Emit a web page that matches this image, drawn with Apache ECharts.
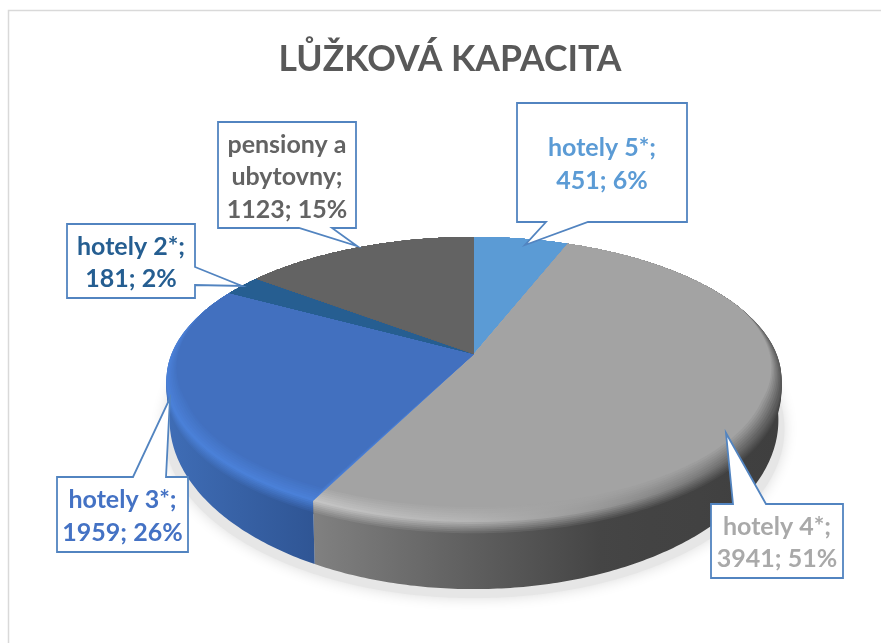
<!DOCTYPE html>
<html>
<head>
<meta charset="utf-8">
<style>html,body{margin:0;padding:0;background:#fff}#c{width:881px;height:643px}</style>
<script src="https://cdn.jsdelivr.net/npm/echarts@6/dist/echarts.min.js"></script>
</head>
<body>
<div id="c"></div>
<script>
// ---- data ----
const categories = ['hotely 5*', 'hotely 4*', 'hotely 3*', 'hotely 2*', 'pensiony a\nubytovny'];
const values = [451, 3941, 1959, 181, 1123];
const percents = [6, 51, 26, 2, 15];
const chartTitle = 'LŮŽKOVÁ KAPACITA';

// ---- styling ----
const topColors = ['#5B9BD5', '#A3A3A3', '#4270BF', '#265E91', '#636363'];
const textColors = ['#5B9BD5', '#A9A9A9', '#4472C4', '#255E91', '#636363'];
const sideStops = [
  [[166, '#3F6DB6'], [781, '#3F6DB6']],
  [[316, '#808080'], [470, '#5F5F5F'], [600, '#454545'], [781, '#3F3F3F']],
  [[166, '#3F6DB6'], [316, '#2F5594']],
  [[166, '#264F78'], [781, '#264F78']],
  [[166, '#444444'], [781, '#444444']]
];
const rimStops = [
  [[166, '#5B9BD5'], [781, '#5B9BD5']],
  [[316, '#C4C4C4'], [470, '#B4B4B4'], [600, '#979797'], [700, '#7A7A7A'], [781, '#5A5A5A']],
  [[166, '#4A80D8'], [316, '#4A80D8']],
  [[166, '#265E91'], [781, '#265E91']],
  [[166, '#636363'], [781, '#636363']]
];
const FONT = 'Lato, Carlito, sans-serif';
const calloutColor = '#5284C0';

// ---- perspective of the disc ----
const CX = 474, CY = 354, A = 302.5, B = 138, K = 0.179, SHRINK = 0.99;
const BOTTOM_TOP = 251, TOP_TOP = 237, BOTTOM_STRETCH = 1.186, ROLL = 13;
const total = values.reduce((a, b) => a + b, 0);
const starts = [];
values.reduce((acc, v, i) => { starts[i] = acc; return acc + v; }, 0);
const rad = v => v / total * Math.PI * 2;

function proj(theta, du, dv, scale) {
  const u = Math.sin(theta) * (1 - du), v = -Math.cos(theta) * (1 - dv);
  const w = 1 - K * v;
  return [CX + A * scale * u / w, CY + B * v / w];
}
function bottomPoint(theta) {
  const p = proj(theta, 0, 0, SHRINK);
  return [p[0], BOTTOM_TOP + (p[1] - TOP_TOP) * BOTTOM_STRETCH];
}
function front(t) { return Math.max(0, Math.min(1, (-Math.cos(t) + 0.35) / 0.7)); }
function arc(a0, a1, fn) {
  const n = Math.max(2, Math.ceil((a1 - a0) / 0.012));
  const out = [];
  for (let i = 0; i <= n; i++) out.push(fn(a0 + (a1 - a0) * i / n));
  return out;
}
function hex(c) { return [1, 3, 5].map(i => parseInt(c.substr(i, 2), 16)); }
function toHex(a) { return '#' + a.map(x => Math.round(x).toString(16).padStart(2, '0')).join(''); }
function mix(c1, c2, t) {
  const a = hex(c1), b = hex(c2);
  return toHex(a.map((x, i) => x + (b[i] - x) * t));
}
function colorAt(stops, x) {
  if (x <= stops[0][0]) return stops[0][1];
  for (let i = 1; i < stops.length; i++) {
    if (x <= stops[i][0]) {
      return mix(stops[i - 1][1], stops[i][1], (x - stops[i - 1][0]) / (stops[i][0] - stops[i - 1][0]));
    }
  }
  return stops[stops.length - 1][1];
}
const GX = [166, 240, 316, 390, 470, 535, 600, 650, 700, 740, 781];
function gradFn(fn) {
  return new echarts.graphic.LinearGradient(166, 0, 781, 0,
    GX.map(x => ({ offset: (x - 166) / 615, color: fn(x) })), true);
}

// callout geometry: box [x0,y0,x1,y1] and outline with tail
const callouts = [
  { box: [517, 103, 687, 222], tail: [[588, 222], [525, 245], [546, 222]], side: 'bottom', dy: 2 },
  { box: [711, 504, 843, 578], tail: [[733, 504], [726, 433], [766, 504]], side: 'top', dy: 2 },
  { box: [57, 477, 188, 552], tail: [[133, 477], [170, 398], [166, 477]], side: 'top', dy: 2 },
  { box: [67, 224, 195, 298], tail: [[195, 267], [242, 286], [195, 285]], side: 'right', dy: 2 },
  { box: [218, 122, 356, 228], tail: [[332, 228], [357, 246], [299, 228]], side: 'bottom', dy: 2 }
];
function outline(c) {
  const [x0, y0, x1, y1] = c.box;
  const pts = [[x0, y0]];
  if (c.side === 'top') pts.push(...c.tail);
  pts.push([x1, y0]);
  if (c.side === 'right') pts.push(...c.tail);
  pts.push([x1, y1]);
  if (c.side === 'bottom') pts.push(...c.tail);
  pts.push([x0, y1]);
  return pts;
}

const dataItems = categories.map((n, i) => ({ name: n, value: values[i] }));

function renderShadow(params) {
  if (params.dataIndex !== 0) return null;
  const pts = arc(0, Math.PI * 2, t => {
    const p = bottomPoint(t);
    return [CX + (p[0] - CX) * 1.02, p[1] + 9];
  });
  return {
    type: 'polygon', shape: { points: pts },
    style: { fill: '#E6E6E6', shadowBlur: 14, shadowColor: 'rgba(0,0,0,0.14)' }
  };
}
function renderSide(params, api) {
  const i = params.dataIndex;
  const a0 = rad(starts[i]), a1 = a0 + rad(api.value(0));
  const top = arc(a0, a1, t => proj(t, 0, 0, 1));
  const bot = arc(a0, a1, bottomPoint).reverse();
  const children = [{
    type: 'polygon', shape: { points: top.concat(bot) },
    style: { fill: gradFn(x => colorAt(sideStops[i], x)) }
  }];
  // rounded edge: highlight fading down into the side colour
  const M = 7;
  for (let j = M; j >= 1; j--) {
    const d = ROLL * j / M, l = j / M;
    const pts = arc(a0, a1, t => {
      const p = proj(t, 0, 0, 1);
      return [p[0], p[1] + d * front(t)];
    });
    pts.unshift(proj(a0, 0, 0, 1));
    pts.push(proj(a1, 0, 0, 1));
    children.push({
      type: 'polygon', shape: { points: pts },
      style: { fill: gradFn(x => mix(colorAt(rimStops[i], x), colorAt(sideStops[i], x), l)) }
    });
  }
  return { type: 'group', children };
}
function renderTop(params, api) {
  const i = params.dataIndex;
  const a0 = rad(starts[i]), a1 = a0 + rad(api.value(0));
  const N = 7, children = [];
  for (let j = 0; j <= N; j++) {
    const l = j / N;
    const pts = arc(a0, a1, t => {
      const f = front(t);
      return proj(t, 0.045 * l * f, 0.075 * l * f, 1);
    });
    pts.unshift([CX, CY]);
    children.push({
      type: 'polygon', shape: { points: pts },
      style: { fill: j === N ? topColors[i] : gradFn(x => mix(colorAt(rimStops[i], x), topColors[i], l)) }
    });
  }
  return { type: 'group', children };
}
function renderCallout(params, api) {
  const i = params.dataIndex;
  const c = callouts[i];
  const pct = percents[i];
  return {
    type: 'group',
    children: [
      {
        type: 'polygon', shape: { points: outline(c) },
        style: { fill: '#fff', stroke: calloutColor, lineWidth: 1.8, lineJoin: 'miter' }
      },
      {
        type: 'text',
        style: {
          x: (c.box[0] + c.box[2]) / 2, y: (c.box[1] + c.box[3]) / 2 + c.dy,
          text: categories[i] + ';\n' + api.value(0) + '; ' + pct + '%',
          align: 'center', verticalAlign: 'middle',
          fontFamily: FONT, fontWeight: 'bold', fontSize: 25, lineHeight: 32.5,
          fill: textColors[i]
        }
      }
    ]
  };
}
function layer(fn, z) {
  return {
    type: 'custom', coordinateSystem: 'none', silent: true, z,
    animation: false, clip: false, renderItem: fn, data: dataItems
  };
}

const chart = echarts.init(document.getElementById('c'), null, { renderer: 'canvas' });
chart.setOption({
  animation: false,
  backgroundColor: '#fff',
  title: {
    text: chartTitle, left: 445, top: 37, textAlign: 'center',
    textStyle: { fontFamily: FONT, fontWeight: 'bold', fontSize: 35.5, color: '#595959' }
  },
  graphic: [{
    type: 'rect', silent: true, z: -1,
    shape: { x: 8.5, y: 10.5, width: 1200, height: 1200 },
    style: { fill: 'none', stroke: '#D9D9D9', lineWidth: 1.5 }
  }],
  series: [
    layer(renderShadow, 1),
    layer(renderSide, 2),
    layer(renderTop, 3),
    layer(renderCallout, 4)
  ]
});
</script>
</body>
</html>
